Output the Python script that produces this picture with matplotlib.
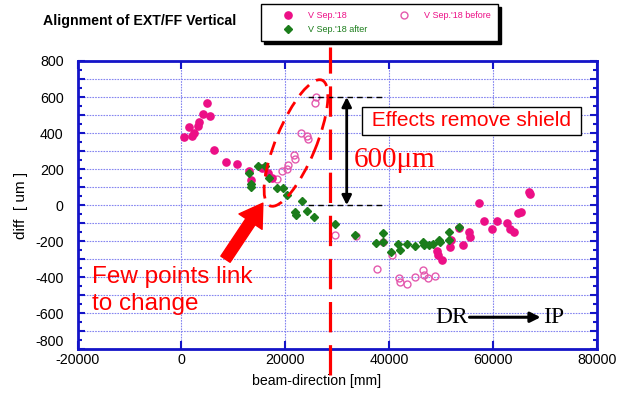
import numpy as np
import matplotlib
matplotlib.use("Agg")
import matplotlib.pyplot as plt
from matplotlib.patches import Ellipse
from matplotlib.transforms import IdentityTransform
from matplotlib.ticker import MultipleLocator, FuncFormatter

plt.rcParams["font.family"] = ["Liberation Sans", "DejaVu Sans"]
plt.rcParams["axes.unicode_minus"] = False

# V Sep.'18 (filled magenta)
sep18_x = [480, 1960, 2410, 1445, 3120, 3430, 4200, 4850, 5490, 6320, 8580, 10640,
           13070, 13330, 15450, 16730, 17380,
           49180, 49490, 50140, 51740, 51870, 54310, 55460, 55590, 53530, 57390,
           58350, 59770, 60850, 62660, 63300, 64070, 64900, 65360, 66960, 67150]
sep18_y = [376, 385, 398, 435, 441, 459, 505, 568, 496, 306, 239, 228,
           192, 139, 204, 176, 148,
           -252, -278, -306, -232, -194, -222, -150, -176, -128, 14,
           -90, -130, -90, -99, -130, -150, -46, -40, 74, 60]

# V Sep.'18 before (open circles)
before_x = [25920, 25730, 23030, 24130, 24320, 21740, 21930, 20590, 20270, 19310, 18340,
            29580, 33570, 37610, 38890, 40500, 41910, 42110, 43510, 44990, 46600,
            46730, 47440, 48850]
before_y = [598, 566, 402, 383, 365, 278, 257, 224, 202, 189, 144,
            -167, -172, -352, -204, -278, -407, -426, -435, -398, -361,
            -389, -407, -394]

# V Sep.'18 after (green diamonds)
after_x = [13070, 13330, 13450, 14800, 16090, 16920, 18340, 19620, 20270, 23160,
           21870, 22000, 24240, 25590, 29580, 33430, 37480, 38890, 38890, 40370,
           41780, 42110, 43510, 44990, 46600, 46730, 47690, 48520, 49680, 49810,
           51610, 51610, 53530]
after_y = [176, 117, 100, 217, 217, 148, 93, 93, 56, 24,
           -37, -56, -32, -68, -102, -163, -209, -157, -204, -259,
           -218, -250, -213, -226, -204, -222, -222, -218, -194, -204,
           -148, -191, -124]

xticks = [-20000, 0, 20000, 40000, 60000, 80000]

magenta = "#ec0f86"
pink = "#e45aae"
green = "#1b7d1b"
blue = "#1414c8"

fig = plt.figure(figsize=(6.23, 3.96), dpi=100)
ax = fig.add_axes([0.1244, 0.1179, 0.8334, 0.7281])

h1, = ax.plot(sep18_x, sep18_y, "o", color=magenta, ms=5.2, mec=magenta, zorder=4)
h2, = ax.plot(before_x, before_y, "o", mfc="none", mec=pink, ms=5, mew=1.0, zorder=3)
h3, = ax.plot(after_x, after_y, "D", color=green, ms=4.2, zorder=5)

ax.set_xlim(-20000, 80000)
ax.set_ylim(-800, 800)
ax.set_xticks(xticks)
ax.yaxis.set_major_locator(MultipleLocator(100))
ax.yaxis.set_minor_locator(MultipleLocator(50))
ax.yaxis.set_major_formatter(FuncFormatter(lambda v, p: "%d" % v if round(v) % 200 == 0 else ""))
ax.tick_params(axis="both", which="both", direction="in", color=blue, width=1.5,
               top=True, right=True, labelsize=10.3)
ax.tick_params(axis="y", which="major", length=5, pad=10)
ax.tick_params(axis="y", which="minor", length=3)
ax.tick_params(axis="x", which="major", length=6, pad=3)
for s in ax.spines.values():
    s.set_color(blue)
    s.set_linewidth(2)
ax.grid(True, which="major", color="#8585f0", linestyle=(0, (1.5, 1)), linewidth=0.8)
ax.set_axisbelow(True)

# lift the bottom y label a little so it clears the x labels
fig.canvas.draw()
for lbl in ax.get_yticklabels():
    if lbl.get_text() == "-800":
        lbl.set_va("bottom")

ax.set_ylabel("diff  [ um ]", fontsize=11)
ax.yaxis.set_label_coords(-0.095, 0.5)
ax.set_xlabel("beam-direction [mm]", fontsize=10.2)
ax.xaxis.set_label_coords(0.461, -0.085)

fig.text(0.069, 0.948, "Alignment of EXT/FF Vertical", fontsize=10.2, fontweight="bold",
         va="center", ha="left")

leg = fig.legend([h1, h3, h2], ["V Sep.'18", "V Sep.'18 after", "V Sep.'18 before"],
                 ncol=2, loc="upper left", bbox_to_anchor=(0.419, 0.99),
                 borderaxespad=0, fontsize=6.5, frameon=True, fancybox=False,
                 edgecolor="black", shadow={"color": "black", "alpha": 1},
                 handlelength=4.4, handletextpad=0.0, columnspacing=1.9,
                 labelspacing=0.55, borderpad=0.8)
leg.get_frame().set_linewidth(1.0)
for t, c in zip(leg.get_texts(), [magenta, green, magenta]):
    t.set_color(c)

# shield removal boundary
ax.axvline(28600, ymin=-0.09, ymax=1.05, color="red", lw=2.3, dashes=(9.5, 4),
           clip_on=False, zorder=6)

# 600 um step
for yy in [600, 0]:
    ax.plot([24400, 38600], [yy, yy], color="black", lw=1, ls=(0, (4, 3)), zorder=6)
ax.annotate("", xy=(31850, 600), xytext=(31850, 0),
            arrowprops=dict(arrowstyle="<|-|>", color="black", lw=2, mutation_scale=14,
                            shrinkA=0, shrinkB=0), zorder=7)
ax.text(55880, 467, " Effects remove shield ", color="red", fontsize=15,
        ha="center", va="center", zorder=8,
        bbox=dict(facecolor="white", edgecolor="black", lw=1, boxstyle="square,pad=0.22"))
ax.text(33200, 250, "600\u03bcm", color="red", fontsize=21, family="Liberation Serif",
        ha="left", va="center", zorder=8)

# DR -> IP
ax.text(48850, -622, "DR", fontsize=17, family="Liberation Serif", ha="left", va="center")
ax.annotate("", xy=(69200, -622), xytext=(55500, -622),
            arrowprops=dict(arrowstyle="-|>", color="black", lw=2.2, mutation_scale=15,
                            shrinkA=0, shrinkB=0))
ax.text(69650, -622, "IP", fontsize=17, family="Liberation Serif", ha="left", va="center")

# few points note
ax.text(-17200, -475, "Few points link\nto change", color="red", fontsize=17.5,
        ha="left", va="center", linespacing=1.3, zorder=8)
ax.annotate("", xy=(15700, 11), xytext=(8500, -300),
            arrowprops=dict(arrowstyle="simple,head_length=0.8,head_width=1.0,tail_width=0.4",
                            color="red", mutation_scale=20, shrinkA=0, shrinkB=0), zorder=8)

ell = Ellipse((296, 396 - 143), 136, 40, angle=67.5, transform=IdentityTransform(),
              fill=False, edgecolor="red", lw=2, ls=(0, (5, 3)), zorder=8)
fig.add_artist(ell)

fig.savefig("out.png", dpi=100)
